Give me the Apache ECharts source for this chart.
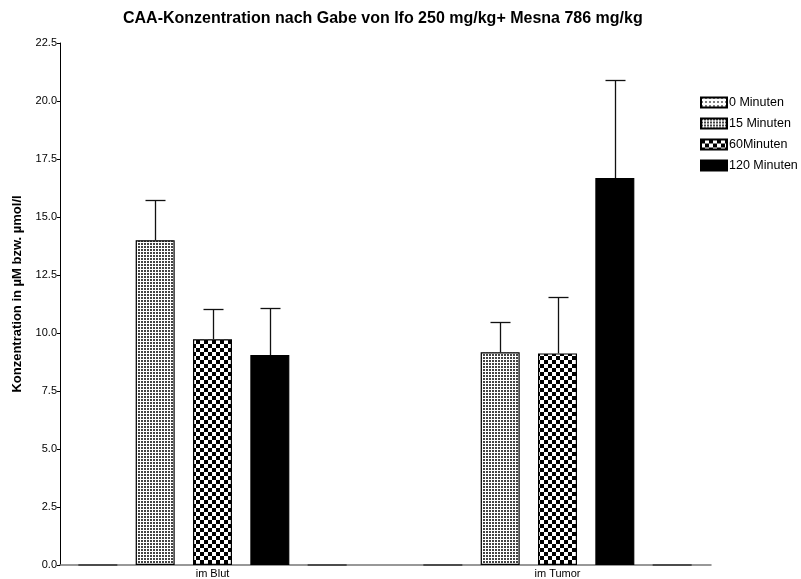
<!DOCTYPE html>
<html>
<head>
<meta charset="utf-8">
<script src="https://cdn.jsdelivr.net/npm/echarts@6/dist/echarts.min.js"></script>
<style>
html, body { margin: 0; background: #fff; }
#chart { width: 801px; height: 579px; }
</style>
</head>
<body>
<div id="chart"></div>
<script>
var groups = ['im Blut', 'im Tumor']
var names = ['0 Minuten', '15 Minuten', '60Minuten', '120 Minuten', '']
var min0 = [0, 0]
var min15 = [14.0, 9.17]
var min60 = [9.73, 9.12]
var min120 = [9.05, 16.68]
var empty = [0, 0]
var err15 = [1.73, 1.32]
var err60 = [1.29, 2.44]
var err120 = [2.04, 4.21]

var BAR_W = 39
var GAP = 0.47

// small canvas tiles for the bar fills
function tile (size, draw) {
  var c = document.createElement('canvas')
  c.width = size
  c.height = size
  var ctx = c.getContext('2d')
  ctx.fillStyle = '#fff'
  ctx.fillRect(0, 0, size, size)
  draw(ctx)
  return { image: c, repeat: 'repeat' }
}
var sparse = tile(4, function (ctx) {
  ctx.fillStyle = '#000'
  ctx.fillRect(0, 0, 2, 1)
})
var dense = tile(3, function (ctx) {
  ctx.fillStyle = '#444'
  ctx.fillRect(0, 0, 2, 2)
})
var checker = tile(8, function (ctx) {
  ctx.fillStyle = '#000'
  ctx.fillRect(0, 0, 4, 4)
  ctx.fillRect(4, 4, 4, 4)
})

var fills = [sparse, dense, checker, '#000', '#fff']
var values = [min0, min15, min60, min120, empty]
var errs = [null, err15, err60, err120, null]

var series = []
values.forEach(function (vals, i) {
  series.push({
    name: names[i],
    type: 'bar',
    xAxisIndex: 0,
    yAxisIndex: 0,
    barWidth: BAR_W,
    barGap: (GAP * 100) + '%',
    itemStyle: { color: fills[i], borderColor: '#000', borderWidth: 1.2 },
    emphasis: { disabled: true },
    data: vals
  })
})
errs.forEach(function (e, i) {
  if (!e) return
  var offset = (i - 2) * BAR_W * (1 + GAP)
  series.push({
    type: 'custom',
    xAxisIndex: 0,
    yAxisIndex: 0,
    z: 3,
    data: e.map(function (d, k) { return [k, values[i][k], d] }),
    renderItem: function (params, api) {
      var base = api.coord([api.value(0), api.value(1)])
      var top = api.coord([api.value(0), api.value(1) + api.value(2)])
      var x = Math.round(base[0] + offset) + 0.5
      var y = Math.round(top[1]) + 0.5
      var st = { stroke: '#111', lineWidth: 1.3 }
      return {
        type: 'group',
        children: [
          { type: 'line', shape: { x1: x, y1: base[1], x2: x, y2: y }, style: st },
          { type: 'line', shape: { x1: x - 10, y1: y, x2: x + 10, y2: y }, style: st }
        ]
      }
    }
  })
})

var myChart = echarts.init(document.getElementById('chart'))
var option = {
  backgroundColor: '#fff',
  animation: false,
  textStyle: { fontFamily: 'Liberation Sans, Arial, sans-serif' },
  title: {
    text: 'CAA-Konzentration nach Gabe von Ifo 250 mg/kg+ Mesna 786 mg/kg',
    left: 118,
    top: 6,
    textStyle: { fontSize: 16, fontWeight: 'bold', color: '#000', fontFamily: 'Liberation Sans, Arial, sans-serif' }
  },
  legend: {
    orient: 'vertical',
    left: 695,
    top: 91,
    icon: 'rect',
    itemWidth: 26,
    itemHeight: 10,
    itemGap: 8,
    data: names.slice(0, 4),
    textStyle: { fontSize: 12.5, color: '#000', padding: [0, 0, 0, -3] },
    selectedMode: false
  },
  grid: [
    { left: 40, right: 71, top: 43, bottom: 14, outerBoundsMode: 'none' },
    { left: 60, right: 90, top: 43, bottom: 14, outerBoundsMode: 'none' }
  ],
  xAxis: [
    {
      type: 'category',
      gridIndex: 0,
      data: groups,
      axisLine: { show: false },
      axisTick: { show: false },
      axisLabel: { fontSize: 11, color: '#000', margin: 3 }
    },
    {
      type: 'value',
      gridIndex: 1,
      min: 0,
      max: 1,
      axisLine: { show: true, lineStyle: { color: '#777', width: 1.5 } },
      axisTick: { show: false },
      axisLabel: { show: false },
      splitLine: { show: false }
    }
  ],
  yAxis: [
    {
      type: 'value',
      gridIndex: 0,
      min: 0,
      max: 22.5,
      interval: 2.5,
      show: false
    },
    {
      type: 'value',
      gridIndex: 1,
      min: 0,
      max: 22.5,
      interval: 2.5,
      name: 'Konzentration in µM bzw. µmol/l',
      nameLocation: 'middle',
      nameRotate: 90,
      nameGap: 36,
      nameTextStyle: { fontSize: 13, fontWeight: 'bold', color: '#000', padding: [0, 0, 0, 20] },
      axisLine: { show: true, lineStyle: { color: '#000', width: 1 } },
      axisTick: { show: true, length: 3, lineStyle: { color: '#000' } },
      axisLabel: {
        fontSize: 11,
        color: '#000',
        margin: 3,
        formatter: function (v) { return v.toFixed(1) }
      },
      splitLine: { show: false }
    }
  ],
  series: series
}
myChart.setOption(option)
</script>
</body>
</html>
